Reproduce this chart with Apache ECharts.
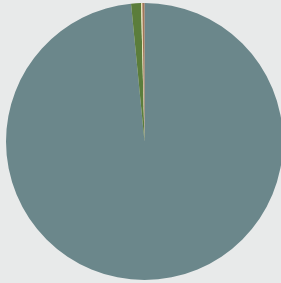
<!DOCTYPE html>
<html><head><meta charset="utf-8">
<script src="https://cdn.jsdelivr.net/npm/echarts@6/dist/echarts.min.js"></script>
<style>html,body{margin:0;padding:0;background:#e8eaea;}#c{width:281px;height:283px;}</style>
</head><body><div id="c"></div>
<script>
const categories = ['A', 'B', 'C', 'D'];
const values = [98.45, 1.15, 0.15, 0.25];
const colors = ['#6b878b', '#5b7d3b', '#ece2b4', '#a27658'];
const chart = echarts.init(document.getElementById('c'), null, {renderer: 'canvas'});
chart.setOption({
  backgroundColor: '#e8eaea',
  animation: false,
  series: [{
    type: 'pie',
    center: [144.5, 141.5],
    radius: 138.5,
    startAngle: 90,
    clockwise: true,
    minAngle: 0,
    label: {show: false},
    labelLine: {show: false},
    itemStyle: {borderWidth: 0},
    emphasis: {disabled: true},
    data: categories.map((c, i) => ({name: c, value: values[i], itemStyle: {color: colors[i]}}))
  }]
});
</script></body></html>
